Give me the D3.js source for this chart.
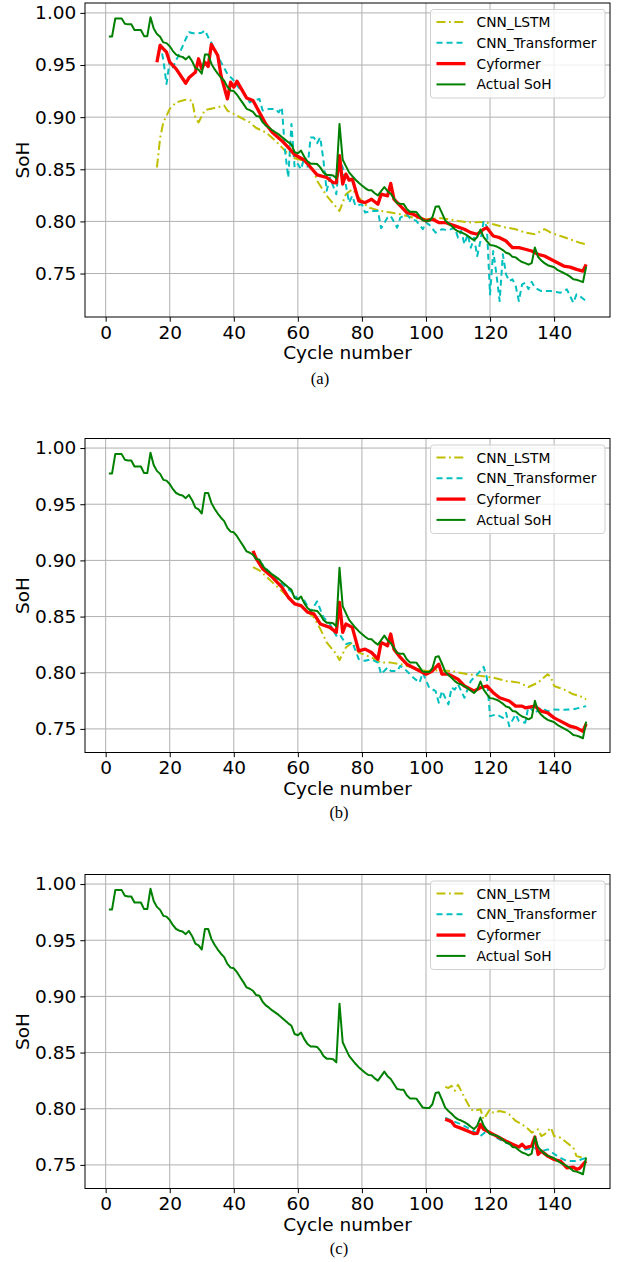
<!DOCTYPE html>
<html>
<head>
<meta charset="utf-8">
<script src="https://cdn.jsdelivr.net/npm/d3@7"></script>
<style>
  body { margin: 0; background: #fff; }
  text { font-family: "DejaVu Sans", sans-serif; }
</style>
</head>
<body>
<div id="chart"></div>
<script>
// Chart data
var seriesNames = ["CNN_LSTM", "CNN_Transformer", "Cyformer", "Actual SoH"];
var xTicks = [0, 20, 40, 60, 80, 100, 120, 140];
var yTicks = [0.75, 0.80, 0.85, 0.90, 0.95, 1.00];
var captions = ["(a)", "(b)", "(c)"];

// measured SoH, cycles 1..150
var actualSoH = [
  0.9774, 0.9774, 0.9946, 0.9946, 0.9946, 0.9896, 0.9890, 0.9890, 0.9836, 0.9836,
  0.9836, 0.9777, 0.9777, 0.9958, 0.9850, 0.9797, 0.9770, 0.9717, 0.9710, 0.9680,
  0.9634, 0.9600, 0.9585, 0.9578, 0.9554, 0.9583, 0.9536, 0.9470, 0.9455, 0.9417,
  0.9601, 0.9601, 0.9512, 0.9460, 0.9417, 0.9380, 0.9350, 0.9290, 0.9256, 0.9250,
  0.9215, 0.9170, 0.9127, 0.9080, 0.9068, 0.9050, 0.9012, 0.9006, 0.8952, 0.8920,
  0.8900, 0.8875, 0.8855, 0.8835, 0.8810, 0.8785, 0.8760, 0.8738, 0.8665, 0.8654,
  0.8679, 0.8620, 0.8577, 0.8554, 0.8554, 0.8550, 0.8518, 0.8470, 0.8446, 0.8446,
  0.8440, 0.8413, 0.8935, 0.8592, 0.8530, 0.8470, 0.8435, 0.8400, 0.8370, 0.8345,
  0.8320, 0.8300, 0.8298, 0.8270, 0.8250, 0.8290, 0.8330, 0.8290, 0.8265, 0.8220,
  0.8175, 0.8170, 0.8168, 0.8120, 0.8092, 0.8092, 0.8090, 0.8050, 0.8010, 0.8006,
  0.8006, 0.8040, 0.8140, 0.8146, 0.8080, 0.8010, 0.7980, 0.7955, 0.7925, 0.7905,
  0.7895, 0.7880, 0.7863, 0.7840, 0.7819, 0.7850, 0.7922, 0.7850, 0.7810, 0.7774,
  0.7770, 0.7760, 0.7744, 0.7725, 0.7700, 0.7690, 0.7660, 0.7655, 0.7630, 0.7610,
  0.7600, 0.7585, 0.7600, 0.7750, 0.7660, 0.7625, 0.7600, 0.7580, 0.7570, 0.7560,
  0.7536, 0.7520, 0.7505, 0.7490, 0.7470, 0.7446, 0.7440, 0.7430, 0.7417, 0.7565
];
var cycles = d3.range(1, actualSoH.length + 1);

// predictions [cycle, SoH]
var lstmA = [[16,0.8517],[17,0.8800],[18,0.8950],[20,0.9079],[22,0.9142],[25,0.9168],[27,0.9159],[28,0.8998],[29,0.8950],[31,0.9069],[34,0.9088],[37,0.9111],[38,0.9063],[42,0.8998],[45,0.8950],[47,0.8896],[50,0.8854],[53,0.8774],[55,0.8710],[58,0.8613],[62,0.8582],[65,0.8486],[66,0.8390],[69,0.8245],[73,0.8100],[75,0.8261],[77,0.8309],[79,0.8229],[82,0.8133],[86,0.8100],[89,0.8085],[92,0.8069],[96,0.8037],[100,0.8021],[105,0.8031],[110,0.8005],[114,0.7989],[118,0.7995],[121,0.7973],[124,0.7947],[128,0.7925],[131,0.7892],[134,0.7877],[137,0.7925],[139,0.7892],[142,0.7860],[145,0.7828],[148,0.7796],[150,0.7780]];
var transA = [[17,0.9704],[18,0.9550],[19,0.9319],[20,0.9543],[21,0.9479],[23,0.9608],[25,0.9750],[26,0.9815],[28,0.9800],[30,0.9810],[31,0.9832],[32,0.9767],[34,0.9656],[36,0.9527],[38,0.9415],[40,0.9351],[41,0.9303],[43,0.9238],[45,0.9142],[46,0.9159],[48,0.9175],[49,0.9063],[51,0.9079],[53,0.9079],[54,0.9046],[55,0.9094],[56,0.8678],[57,0.8421],[58,0.8935],[59,0.8517],[60,0.8550],[61,0.8500],[62,0.8613],[63,0.8517],[64,0.8806],[65,0.8806],[66,0.8750],[67,0.8806],[68,0.8582],[69,0.8293],[70,0.8421],[72,0.8261],[73,0.8582],[74,0.8517],[76,0.8180],[77,0.8245],[78,0.8149],[80,0.8165],[81,0.8085],[83,0.8100],[85,0.8100],[86,0.7934],[88,0.8037],[89,0.8053],[91,0.7940],[92,0.8037],[94,0.8069],[95,0.8031],[97,0.8005],[99,0.7925],[100,0.7989],[101,0.7970],[103,0.7892],[105,0.7925],[107,0.7915],[109,0.7940],[110,0.7844],[111,0.7909],[112,0.7781],[113,0.7877],[114,0.7748],[115,0.7844],[116,0.7668],[117,0.7812],[118,0.8005],[119,0.7950],[120,0.7300],[121,0.7716],[122,0.7492],[123,0.7236],[124,0.7684],[125,0.7492],[126,0.7428],[127,0.7445],[128,0.7380],[129,0.7236],[130,0.7396],[131,0.7412],[132,0.7350],[133,0.7420],[134,0.7364],[136,0.7332],[139,0.7332],[142,0.7316],[144,0.7348],[146,0.7220],[147,0.7300],[148,0.7284],[150,0.7236]];
var cyA = [[16,0.9527],[17,0.9688],[19,0.9623],[20,0.9527],[22,0.9463],[25,0.9325],[26,0.9377],[28,0.9430],[29,0.9560],[30,0.9463],[31,0.9527],[32,0.9486],[33,0.9697],[35,0.9591],[36,0.9400],[38,0.9175],[39,0.9335],[40,0.9287],[41,0.9344],[43,0.9238],[44,0.9184],[46,0.9159],[48,0.9046],[50,0.8935],[52,0.8854],[55,0.8774],[57,0.8710],[59,0.8640],[62,0.8589],[64,0.8517],[66,0.8447],[69,0.8421],[71,0.8373],[72,0.8370],[73,0.8630],[74,0.8358],[75,0.8454],[76,0.8396],[77,0.8406],[79,0.8197],[81,0.8180],[83,0.8213],[85,0.8165],[86,0.8261],[88,0.8245],[89,0.8364],[90,0.8213],[92,0.8149],[94,0.8085],[96,0.8069],[98,0.8037],[100,0.8005],[102,0.8021],[104,0.7989],[106,0.7989],[109,0.7957],[112,0.7925],[114,0.7892],[116,0.7877],[118,0.7925],[119,0.7940],[121,0.7860],[123,0.7844],[125,0.7812],[127,0.7748],[129,0.7748],[131,0.7733],[133,0.7716],[135,0.7684],[137,0.7668],[140,0.7620],[143,0.7572],[145,0.7562],[147,0.7540],[149,0.7524],[150,0.7588]];

var lstmB = [[46,0.8941],[48,0.8911],[50,0.8860],[53,0.8780],[56,0.8700],[59,0.8620],[62,0.8570],[65,0.8493],[67,0.8390],[69,0.8270],[72,0.8166],[73,0.8112],[75,0.8225],[77,0.8270],[79,0.8180],[83,0.8136],[86,0.8091],[89,0.8090],[92,0.8076],[96,0.8046],[100,0.8016],[104,0.8020],[108,0.8015],[113,0.7987],[117,0.7972],[121,0.7957],[125,0.7927],[129,0.7912],[132,0.7873],[135,0.7912],[138,0.7987],[139,0.7960],[140,0.7882],[143,0.7852],[146,0.7808],[148,0.7793],[150,0.7763]];
var transB = [[46,0.9060],[48,0.8990],[50,0.8930],[52,0.8870],[55,0.8790],[58,0.8720],[60,0.8658],[62,0.8643],[64,0.8545],[66,0.8635],[68,0.8493],[70,0.8434],[72,0.8330],[73,0.8345],[75,0.8255],[77,0.8270],[79,0.8121],[81,0.8106],[83,0.8120],[85,0.8090],[86,0.7987],[88,0.8046],[89,0.8016],[91,0.8016],[92,0.8061],[94,0.8016],[96,0.7957],[98,0.7912],[99,0.8001],[101,0.7867],[103,0.7837],[104,0.7733],[105,0.7837],[107,0.7718],[108,0.7867],[109,0.7850],[110,0.7897],[112,0.7777],[114,0.7927],[115,0.7957],[117,0.8016],[118,0.8052],[119,0.7957],[120,0.7614],[122,0.7629],[124,0.7598],[125,0.7643],[126,0.7524],[128,0.7629],[129,0.7569],[131,0.7554],[132,0.7703],[134,0.7643],[136,0.7688],[138,0.7658],[140,0.7673],[143,0.7670],[146,0.7675],[148,0.7688],[150,0.7703]];
var cyB = [[46,0.9084],[47,0.9016],[49,0.8926],[52,0.8851],[55,0.8762],[57,0.8672],[59,0.8613],[61,0.8598],[63,0.8540],[65,0.8524],[67,0.8434],[70,0.8404],[72,0.8359],[73,0.8627],[74,0.8359],[75,0.8434],[77,0.8404],[79,0.8195],[81,0.8210],[83,0.8180],[85,0.8121],[86,0.8270],[88,0.8240],[89,0.8345],[90,0.8210],[92,0.8136],[94,0.8076],[97,0.8031],[99,0.8001],[100,0.7987],[102,0.8016],[104,0.8076],[105,0.7987],[107,0.7987],[110,0.7942],[112,0.7882],[115,0.7837],[117,0.7867],[119,0.7882],[121,0.7822],[123,0.7777],[126,0.7748],[128,0.7703],[130,0.7703],[131,0.7688],[134,0.7703],[136,0.7658],[138,0.7643],[140,0.7598],[142,0.7569],[145,0.7524],[147,0.7509],[149,0.7479],[150,0.7545]];

var lstmC = [[106,0.8195],[107,0.8185],[108,0.8204],[109,0.8160],[110,0.8213],[111,0.8159],[112,0.8100],[114,0.7996],[115,0.7980],[117,0.7996],[118,0.7906],[120,0.7996],[121,0.7965],[123,0.7980],[125,0.7965],[126,0.7950],[128,0.7891],[130,0.7861],[132,0.7817],[133,0.7787],[135,0.7817],[136,0.7757],[137,0.7772],[139,0.7831],[140,0.7757],[142,0.7742],[144,0.7697],[146,0.7652],[147,0.7578],[149,0.7563],[150,0.7563]];
var transC = [[106,0.7920],[108,0.7895],[111,0.7861],[114,0.7817],[117,0.7757],[119,0.7802],[122,0.7742],[125,0.7697],[128,0.7668],[131,0.7638],[134,0.7650],[136,0.7620],[138,0.7638],[141,0.7578],[144,0.7534],[147,0.7534],[150,0.7563]];
var cyC = [[106,0.7906],[108,0.7885],[109,0.7846],[111,0.7825],[113,0.7802],[115,0.7778],[116,0.7780],[117,0.7861],[118,0.7817],[120,0.7787],[121,0.7772],[123,0.7742],[125,0.7712],[127,0.7683],[129,0.7660],[130,0.7683],[131,0.7653],[133,0.7670],[134,0.7748],[135,0.7593],[136,0.7623],[138,0.7578],[140,0.7548],[142,0.7534],[144,0.7474],[146,0.7480],[147,0.7460],[148,0.7470],[149,0.7504],[150,0.7534]];

// Layout
var svgWidth = 621;
var svgHeight = 1262;
var axLeft = 85, axRight = 610;
var panels = [
  { top: 3, bottom: 317, lstm: lstmA, trans: transA, cy: cyA, capX: 320, capY: 384 },
  { top: 438.5, bottom: 752.5, lstm: lstmB, trans: transB, cy: cyB, capX: 339, capY: 818 },
  { top: 874.5, bottom: 1188.5, lstm: lstmC, trans: transC, cy: cyC, capX: 339, capY: 1254 }
];

var styles = [
  { color: "#bfbf00", width: 2, dash: "9,3.5,1.8,3.5" },
  { color: "#00bfbf", width: 2, dash: "6,4" },
  { color: "#ff0000", width: 3.3, dash: null },
  { color: "#008000", width: 2, dash: null }
];

var svg = d3.select("#chart").append("svg")
  .attr("width", svgWidth)
  .attr("height", svgHeight);

var actualData = cycles.map((c, i) => [c, actualSoH[i]]);

panels.forEach(function(p, pi) {
  var allSeries = [p.lstm, p.trans, p.cy, actualData];

  // x scale with matplotlib-like 5% margins
  var xExt = d3.extent(cycles);
  var xPad = (xExt[1] - xExt[0]) * 0.05;
  var xScale = d3.scaleLinear()
    .domain([xExt[0] - xPad, xExt[1] + xPad])
    .range([axLeft, axRight]);

  var allY = [].concat.apply([], allSeries.map(s => s.map(d => d[1])));
  var yExt = d3.extent(allY);
  var yPad = (yExt[1] - yExt[0]) * 0.05;
  var yScale = d3.scaleLinear()
    .domain([yExt[0] - yPad, yExt[1] + yPad])
    .range([p.bottom, p.top]);

  var g = svg.append("g");

  // grid
  g.selectAll(".vgrid").data(xTicks).enter().append("line")
    .attr("x1", d => xScale(d)).attr("x2", d => xScale(d))
    .attr("y1", p.top).attr("y2", p.bottom)
    .attr("stroke", "#b0b0b0").attr("stroke-width", 1);
  g.selectAll(".hgrid").data(yTicks).enter().append("line")
    .attr("x1", axLeft).attr("x2", axRight)
    .attr("y1", d => yScale(d)).attr("y2", d => yScale(d))
    .attr("stroke", "#b0b0b0").attr("stroke-width", 1);

  // series
  var line = d3.line().x(d => xScale(d[0])).y(d => yScale(d[1]));
  allSeries.forEach(function(s, si) {
    g.append("path")
      .datum(s)
      .attr("d", line)
      .attr("fill", "none")
      .attr("stroke", styles[si].color)
      .attr("stroke-width", styles[si].width)
      .attr("stroke-dasharray", styles[si].dash)
      .attr("stroke-linejoin", "round");
  });

  // axes
  var bottomAxis = d3.axisBottom(xScale).tickValues(xTicks).tickSize(4.7).tickPadding(4).tickFormat(d3.format("d"));
  var leftAxis = d3.axisLeft(yScale).tickValues(yTicks).tickSize(4.7).tickPadding(4).tickFormat(d3.format(".2f"));

  var xAxis = g.append("g")
    .attr("transform", `translate(0, ${p.bottom})`)
    .call(bottomAxis);
  var yAxis = g.append("g")
    .attr("transform", `translate(${axLeft}, 0)`)
    .call(leftAxis);
  [xAxis, yAxis].forEach(function(a) {
    a.select(".domain").remove();
    a.selectAll("line").attr("stroke", "#000").attr("stroke-width", 1);
    a.selectAll("text")
      .attr("fill", "#000")
      .style("font-family", "DejaVu Sans")
      .style("font-size", "18.5px");
  });

  // frame
  g.append("rect")
    .attr("x", axLeft).attr("y", p.top)
    .attr("width", axRight - axLeft).attr("height", p.bottom - p.top)
    .attr("fill", "none").attr("stroke", "#000").attr("stroke-width", 1);

  // axis labels
  g.append("text")
    .attr("x", (axLeft + axRight) / 2)
    .attr("y", p.bottom + 42)
    .attr("text-anchor", "middle")
    .style("font-size", "18.5px")
    .text("Cycle number");

  g.append("text")
    .attr("transform", `translate(29, ${(p.top + p.bottom) / 2}) rotate(-90)`)
    .attr("text-anchor", "middle")
    .style("font-size", "18.5px")
    .text("SoH");

  // legend
  var lg = g.append("g")
    .attr("transform", `translate(430.5, ${p.top + 6.5})`);
  lg.append("rect")
    .attr("width", 174.5).attr("height", 88.5)
    .attr("rx", 3)
    .attr("fill", "#fff").attr("fill-opacity", 0.8)
    .attr("stroke", "#d0d0d0").attr("stroke-width", 1);
  seriesNames.forEach(function(name, i) {
    var cy = 12.5 + i * 20.8;
    lg.append("line")
      .attr("x1", 6).attr("x2", 35)
      .attr("y1", cy).attr("y2", cy)
      .attr("stroke", styles[i].color)
      .attr("stroke-width", styles[i].width)
      .attr("stroke-dasharray", styles[i].dash);
    lg.append("text")
      .attr("x", 46).attr("y", cy + 5)
      .style("font-size", "13.8px")
      .text(name);
  });

  // caption
  svg.append("text")
    .attr("x", p.capX).attr("y", p.capY)
    .attr("text-anchor", "middle")
    .style("font-family", "Liberation Serif, serif")
    .style("font-size", "16.5px")
    .text(captions[pi]);
});
</script>
</body>
</html>
